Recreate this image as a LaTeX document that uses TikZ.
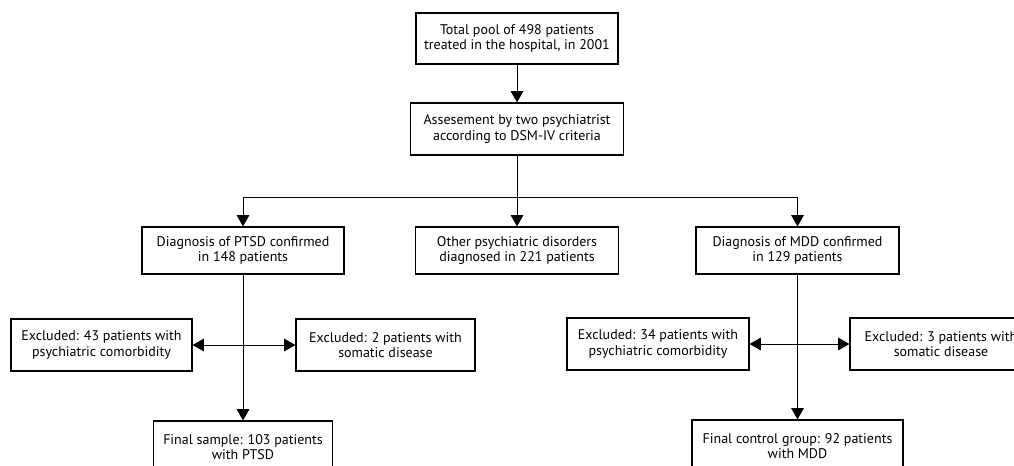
\documentclass[tikz,border=0pt]{standalone}
\usepackage{fontspec}
\setmainfont{PT Sans}
\usepackage{tikz}
\usetikzlibrary{positioning, arrows.meta,
calc
}
\tikzset{%
  box/.style={draw, line width=0.9pt, align=center, inner sep=0pt,
    font=\fontsize{10.5}{11.5}\selectfont}, % every box of the chart
  flow/.style={draw, line width=0.7pt, -{Triangle[length=8.5pt,width=9.5pt]}},
  both/.style={draw, line width=0.7pt, {Triangle[length=8.5pt,width=9.5pt]}-{Triangle[length=8.5pt,width=9.5pt]}}
}

\begin{document}
\begin{tikzpicture}[x=0.75pt, y=-0.75pt]

\clip (0,0) rectangle (1014,465);

\node[box, minimum width=151.5pt, minimum height=38.25pt] (pool) at (517,38.5) {Total pool of 498 patients\\treated in the hospital, in 2001};
\node[box, minimum width=159.75pt, minimum height=39pt] (assess) at (517,129) {Assesement by two psychiatrist\\according to DSM-IV criteria};

\node[box, minimum width=151.5pt, minimum height=35.25pt] (ptsd) at (243,250.5) {Diagnosis of PTSD confirmed\\in 148 patients};
\node[box, minimum width=152.25pt, minimum height=35.25pt] (other) at (517,250.5) {Other psychiatric disorders\\diagnosed in 221 patients};
\node[box, minimum width=152.25pt, minimum height=35.25pt] (mdd) at (797.5,250.5) {Diagnosis of MDD confirmed\\in 129 patients};

\node[box, minimum width=135.75pt, minimum height=39pt] (exa) at (101.5,345) {Excluded: 43 patients with\\psychiatric comorbidity};
\node[box, minimum width=134.25pt, minimum height=39pt] (exb) at (385.5,345) {Excluded: 2 patients with\\somatic disease};
\node[box, minimum width=136.5pt, minimum height=39pt] (exc) at (658,344) {Excluded: 34 patients with\\psychiatric comorbidity};
\node[box, minimum width=136.5pt, minimum height=39pt] (exd) at (941,344) {Excluded: 3 patients with\\somatic disease};

\node[box, minimum width=134.25pt, minimum height=39pt] (fina) at (243,447) {Final sample: 103 patients\\with PTSD};
\node[box, minimum width=158.25pt, minimum height=39pt] (finb) at (797.5,446) {Final control group: 92 patients\\with MDD};

\coordinate (split) at (assess.south |- 0,197);

\draw[flow] (pool) -- (assess);
\draw[flow] (assess) -- (other);
\draw[flow] (split) -| (ptsd);
\draw[flow] (split) -| (mdd);

\draw[flow] (ptsd) -- (fina);
\draw[flow] (mdd) -- (finb);
\draw[both] (exa) -- (exb);
\draw[both] (exc) -- (exd);

\end{tikzpicture}
\end{document}
